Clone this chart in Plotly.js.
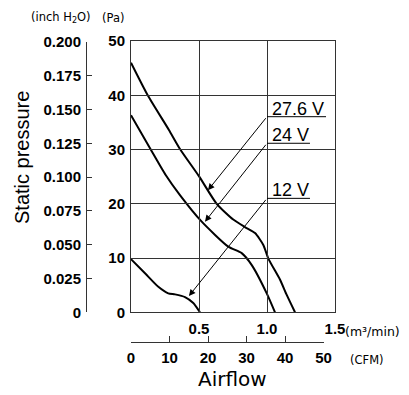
<!DOCTYPE html>
<html>
<head>
<meta charset="utf-8">
<script src="https://cdn.plot.ly/plotly-3.0.1.min.js"></script>
<style>html,body{margin:0;padding:0;background:#fff;}#chart{width:409px;height:395px;}</style>
</head>
<body>
<div id="chart"></div>
<script>
// Airflow (m3/min) and static pressure (Pa)
const flow276 = [0, 0.123, 0.279, 0.360, 0.502, 0.630, 0.752, 0.838, 0.912, 0.973, 1.010, 1.096, 1.145, 1.206];
const pres276 = [46.0, 40.0, 33.6, 30.1, 25.0, 20.0, 17.1, 15.7, 14.6, 12.4, 9.9, 6.0, 3.2, 0];
const flow24 = [0, 0.143, 0.255, 0.360, 0.520, 0.715, 0.814, 0.888, 0.998, 1.059];
const pres24 = [36.3, 30.1, 25.3, 21.6, 16.7, 12.1, 10.9, 8.7, 3.5, 0];
const flow12 = [0, 0.103, 0.201, 0.274, 0.324, 0.397, 0.458, 0.507];
const pres12 = [9.8, 7.2, 4.7, 3.5, 3.3, 2.8, 1.7, 0];
const seriesNames = ['27.6 V', '24 V', '12 V'];

const paTicks = [0, 10, 20, 30, 40, 50];
const m3Ticks = [0.5, 1.0, 1.5];
const m3TickText = ['0.5', '1.0', '1.5'];
const inchTicks = [0, 0.025, 0.05, 0.075, 0.1, 0.125, 0.15, 0.175, 0.2];
const inchTickText = ['0', '0.025', '0.050', '0.075', '0.100', '0.125', '0.150', '0.175', '0.200'];
const cfmTicks = [0, 10, 20, 30, 40, 50];

const PA_PER_INCH = 249.089;
const M3_PER_CFM = 0.0283168;

const W = 409, H = 395, M = 10;
const PW = W - 2 * M, PH = H - 2 * M;
const px = v => (v - M) / PW;           // pixel x -> paper
const py = v => (H - M - v) / PH;       // pixel y -> paper

const X0 = 131, X1 = 335, Y0 = 312.3, Y1 = 41;
const xDom = [px(X0), px(X1)];
const yDom = [py(Y0), py(Y1)];
const inchTop = yDom[0] + (yDom[1] - yDom[0]) * (0.2 * PA_PER_INCH / 50);
const cfmRight = X0 + (X1 - X0) * (50 * M3_PER_CFM / 1.5);

const tickFont = {family: "'Liberation Sans', Arial, sans-serif", size: 15, color: '#000', weight: 'bold'};
const lineCol = '#333';

const curve = (x, y, name) => ({x, y, name, type: 'scatter', mode: 'lines',
  line: {color: '#000', width: 2, shape: 'spline', smoothing: 0.6},
  xaxis: 'x', yaxis: 'y', showlegend: false, hoverinfo: 'skip'});

const traces = [
  curve(flow276, pres276, seriesNames[0]),
  curve(flow24, pres24, seriesNames[1]),
  curve(flow12, pres12, seriesNames[2]),
  {x: [0], y: [0], xaxis: 'x', yaxis: 'y2', type: 'scatter', mode: 'markers', marker: {opacity: 0}, showlegend: false, hoverinfo: 'skip'},
  {x: [0], y: [0], xaxis: 'x2', yaxis: 'y', type: 'scatter', mode: 'markers', marker: {opacity: 0}, showlegend: false, hoverinfo: 'skip'}
];

const labelFont = {family: "'Liberation Sans', Arial, sans-serif", size: 18, color: '#000'};
const unitFont = {family: "'DejaVu Sans', sans-serif", size: 11.5, color: '#000'};
const mid = {showarrow: false, xanchor: 'center', yanchor: 'middle'};
const annotations = [
  // voltage labels
  {xref: 'x', yref: 'y', x: 1.03, y: 36.05, yshift: -3, text: seriesNames[0], showarrow: false, xanchor: 'left', yanchor: 'bottom', font: labelFont, borderpad: 0},
  {xref: 'x', yref: 'y', x: 1.03, y: 31.15, yshift: -3, text: seriesNames[1], showarrow: false, xanchor: 'left', yanchor: 'bottom', font: labelFont, borderpad: 0},
  {xref: 'x', yref: 'y', x: 1.03, y: 21.0, yshift: -3, text: seriesNames[2], showarrow: false, xanchor: 'left', yanchor: 'bottom', font: labelFont, borderpad: 0},
  // arrows
  {xref: 'x', yref: 'y', axref: 'x', ayref: 'y', x: 0.566, y: 22.5, ax: 1.0, ay: 36.05, text: '', showarrow: true, arrowhead: 2, arrowsize: 1.3, arrowwidth: 1, arrowcolor: '#000'},
  {xref: 'x', yref: 'y', axref: 'x', ayref: 'y', x: 0.544, y: 16.7, ax: 1.0, ay: 31.15, text: '', showarrow: true, arrowhead: 2, arrowsize: 1.3, arrowwidth: 1, arrowcolor: '#000'},
  {xref: 'x', yref: 'y', axref: 'x', ayref: 'y', x: 0.426, y: 3.0, ax: 1.0, ay: 21.0, text: '', showarrow: true, arrowhead: 2, arrowsize: 1.3, arrowwidth: 1, arrowcolor: '#000'},
  // unit labels
  Object.assign({xref: 'paper', yref: 'paper', x: px(60.5), y: py(18), text: '(inch H<sub>2</sub>O)', font: unitFont}, mid),
  Object.assign({xref: 'paper', yref: 'paper', x: px(113), y: py(18), text: '(Pa)', font: unitFont}, mid),
  Object.assign({xref: 'paper', yref: 'paper', x: px(343), y: py(331), text: '(m³/min)', font: Object.assign({}, unitFont, {size: 12.5})}, mid, {xanchor: 'left'}),
  Object.assign({xref: 'paper', yref: 'paper', x: px(366.7), y: py(360), text: '(CFM)', font: unitFont}, mid),
  // axis titles
  Object.assign({xref: 'paper', yref: 'paper', x: px(232.5), y: py(378.5), text: 'Airflow', font: {family: "'DejaVu Sans', sans-serif", size: 20, color: '#000'}}, mid),
  Object.assign({xref: 'paper', yref: 'paper', x: px(22), y: py(158), text: 'Static pressure', textangle: -90, font: {family: "'Liberation Sans', Arial, sans-serif", size: 20, color: '#000'}}, mid)
];

const shapes = [
  {type: 'line', xref: 'x', yref: 'y', x0: 1.0, x1: 1.434, y0: 36.05, y1: 36.05, line: {color: '#000', width: 1}},
  {type: 'line', xref: 'x', yref: 'y', x0: 1.0, x1: 1.316, y0: 31.15, y1: 31.15, line: {color: '#000', width: 1}},
  {type: 'line', xref: 'x', yref: 'y', x0: 1.0, x1: 1.316, y0: 21.0, y1: 21.0, line: {color: '#000', width: 1}}
];

const layout = {
  width: W, height: H, autosize: false,
  margin: {l: M, r: M, t: M, b: M},
  paper_bgcolor: '#fff', plot_bgcolor: 'rgba(0,0,0,0)',
  showlegend: false,
  xaxis: {domain: xDom, range: [0, 1.5], anchor: 'y', tickvals: m3Ticks, ticktext: m3TickText,
    showgrid: true, gridcolor: lineCol, gridwidth: 1, showline: true, mirror: true, linecolor: lineCol, linewidth: 1,
    zeroline: false, ticks: '', ticklabelstandoff: 3, tickfont: tickFont, fixedrange: true},
  yaxis: {domain: yDom, range: [0, 50], anchor: 'x', tickvals: paTicks,
    showgrid: true, gridcolor: lineCol, gridwidth: 1, showline: true, mirror: true, linecolor: lineCol, linewidth: 1,
    zeroline: false, ticks: '', ticklabelstandoff: 2, tickfont: tickFont, fixedrange: true},
  yaxis2: {domain: [yDom[0], inchTop], range: [0, 0.2], anchor: 'free', position: px(86), side: 'left',
    tickvals: inchTicks, ticktext: inchTickText, showgrid: false, zeroline: false,
    showline: true, linecolor: lineCol, linewidth: 1, ticks: 'inside', ticklen: 5, tickcolor: lineCol, tickwidth: 1,
    ticklabelstandoff: 2, tickfont: tickFont, fixedrange: true},
  xaxis2: {domain: [px(X0), px(cfmRight)], range: [0, 50], anchor: 'free', position: py(342), side: 'bottom',
    tickvals: cfmTicks, showgrid: false, zeroline: false,
    showline: true, linecolor: lineCol, linewidth: 1, ticks: 'inside', ticklen: 6, tickcolor: lineCol, tickwidth: 1,
    ticklabelstandoff: 2, tickfont: tickFont, fixedrange: true},
  annotations, shapes
};

Plotly.newPlot('chart', traces, layout, {displayModeBar: false, staticPlot: true});
</script>
</body>
</html>
